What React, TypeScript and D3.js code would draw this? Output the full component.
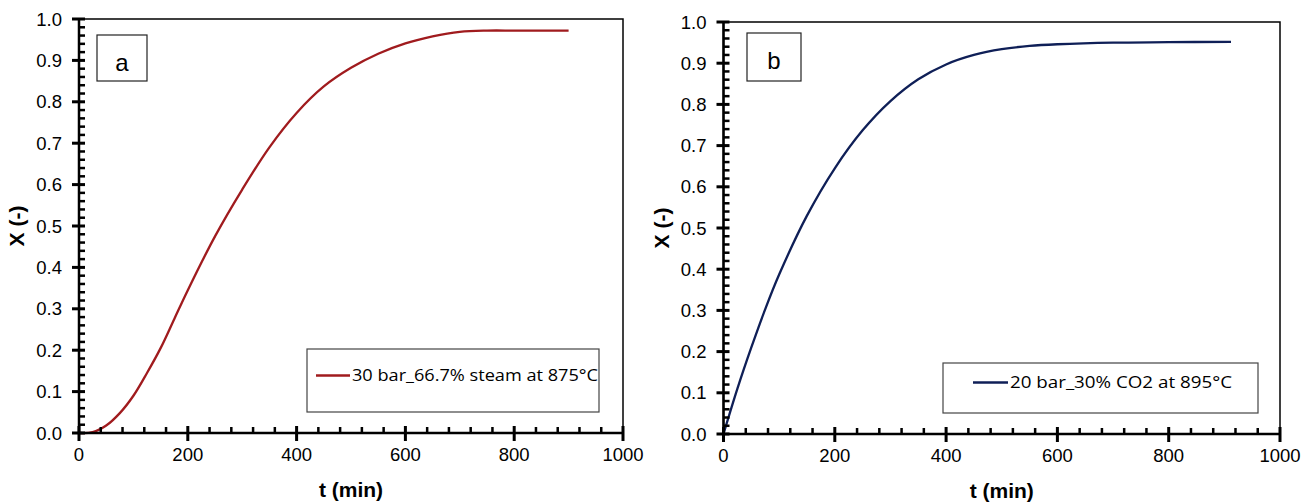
import React from "react";
import * as d3 from "d3";

const tA = [0, 25, 50, 75, 100, 125, 150, 175, 200, 250, 300, 350, 400, 450, 500, 550, 600, 650, 700, 750, 800, 850, 900];
const xA = [0, 0.002, 0.018, 0.048, 0.09, 0.145, 0.205, 0.275, 0.345, 0.475, 0.588, 0.69, 0.773, 0.837, 0.882, 0.916, 0.941, 0.958, 0.969, 0.972, 0.972, 0.972, 0.972];
const tB = [0, 25, 50, 75, 100, 150, 200, 250, 300, 350, 400, 450, 500, 550, 600, 700, 800, 912];
const xB = [0, 0.11, 0.21, 0.303, 0.387, 0.53, 0.645, 0.737, 0.808, 0.861, 0.897, 0.92, 0.934, 0.942, 0.946, 0.95, 0.951, 0.952];
const xTicks = [0, 200, 400, 600, 800, 1000];
const yTicks = [0, 0.1, 0.2, 0.3, 0.4, 0.5, 0.6, 0.7, 0.8, 0.9, 1.0];
const labelA = "30 bar_66.7% steam at 875°C";
const labelB = "20 bar_30% CO2 at 895°C";

type P = {
  left: number; right: number; top: number; bottom: number;
  t: number[]; x: number[]; color: string; tag: string;
  tagBox: [number, number, number, number]; tagBase: number;
  leg: [number, number, number, number]; legLine: [number, number]; legText: number; legTextLen: number; legY: number;
  ytitleX: number;
};

const panels: P[] = [
  {
    left: 79, right: 623, top: 19, bottom: 433, t: tA, x: xA, color: "#A01B1E", tag: "a",
    tagBox: [97, 35, 50, 46], tagBase: 71,
    leg: [307, 349, 292, 63], legLine: [316, 350], legText: 352, legTextLen: 246, legY: 381,
    ytitleX: 24,
  },
  {
    left: 723.5, right: 1280, top: 22, bottom: 434, t: tB, x: xB, color: "#0F1F57", tag: "b",
    tagBox: [747, 33, 54, 48], tagBase: 69,
    leg: [943, 363, 315, 50], legLine: [973, 1008], legText: 1010, legTextLen: 222, legY: 388,
    ytitleX: 669,
  },
];

function Panel({ p }: { p: P }) {
  const xs = d3.scaleLinear().domain([0, 1000]).range([p.left, p.right]);
  const ys = d3.scaleLinear().domain([0, 1]).range([p.bottom, p.top]);
  const data = p.t.map((t, i) => [t, p.x[i]] as [number, number]);
  const line = d3.line<[number, number]>().x(d => xs(d[0])).y(d => ys(d[1])).curve(d3.curveCatmullRom.alpha(0.5));
  const xMinor = d3.range(0, 1001, 40).filter(v => v % 200 !== 0);
  const yMinor = d3.range(0, 51, 1).map(v => v / 50).filter((v, i) => i % 5 !== 0);
  const font = "'Liberation Sans', Arial, sans-serif";
  return (
    <g>
      <rect x={p.left} y={p.top} width={p.right - p.left} height={p.bottom - p.top} fill="none" stroke="#000" strokeWidth={1.5} />
      <path d={line(data) || ""} fill="none" stroke={p.color} strokeWidth={2.3} />
      <rect x={p.left - 1.25} y={p.top} width={2.5} height={p.bottom - p.top + 1} fill="#000" />
      <rect x={p.left - 1.25} y={p.bottom - 1.25} width={p.right - p.left + 1.25} height={2.5} fill="#000" />
      {yTicks.map(v => (
        <rect key={"ytk" + v} x={p.left - 7} y={ys(v) - 1.5} width={13} height={3} fill="#000" />
      ))}
      {yMinor.map(v => (
        <rect key={"ymk" + v} x={p.left} y={ys(v) - 1.25} width={6} height={2.5} fill="#000" />
      ))}
      {xTicks.map(v => (
        <rect key={"xtk" + v} x={xs(v) - 1.5} y={p.bottom - 7} width={3} height={15} fill="#000" />
      ))}
      {xMinor.map(v => (
        <rect key={"xmk" + v} x={xs(v) - 1.25} y={p.bottom - 6} width={2.5} height={6} fill="#000" />
      ))}
      {yTicks.map(v => (
        <text key={"y" + v} x={p.left - 17} y={ys(v) + 6.5} textAnchor="end" fontSize={18.5} fontFamily={font} fill="#000">{v.toFixed(1)}</text>
      ))}
      {xTicks.map(v => (
        <text key={"x" + v} x={xs(v)} y={p.bottom + 28} textAnchor="middle" fontSize={18.5} fontFamily={font} fill="#000">{v}</text>
      ))}
      <text x={(p.left + p.right) / 2} y={p.bottom + 64} textAnchor="middle" fontSize={21} fontWeight="bold" fontFamily={font} fill="#000">t (min)</text>
      <text transform={`translate(${p.ytitleX},${(p.top + p.bottom) / 2}) rotate(-90)`} textAnchor="middle" fontSize={21} fontWeight="bold" fontFamily={font} fill="#000">X (-)</text>
      <rect x={p.tagBox[0]} y={p.tagBox[1]} width={p.tagBox[2]} height={p.tagBox[3]} fill="#fff" stroke="#222" strokeWidth={1.2} />
      <text x={p.tagBox[0] + p.tagBox[2] / 2} y={p.tagBase} textAnchor="middle" fontSize={24} fontFamily={font} fill="#000">{p.tag}</text>
      <rect x={p.leg[0]} y={p.leg[1]} width={p.leg[2]} height={p.leg[3]} fill="#fff" stroke="#444" strokeWidth={1.2} />
      <line x1={p.legLine[0]} x2={p.legLine[1]} y1={p.legY - 5.5} y2={p.legY - 5.5} stroke={p.color} strokeWidth={2.5} />
      <text x={p.legText} y={p.legY} fontSize={16} fontFamily="'Open Sans', 'Noto Sans', sans-serif" textLength={p.legTextLen} lengthAdjust="spacingAndGlyphs" fill="#000">
        {p.tag === "a" ? labelA : labelB}
      </text>
    </g>
  );
}

export default function App() {
  return (
    <svg width={1310} height={504} style={{ position: "absolute", left: 0, top: 0, background: "#fff" }}>
      <rect x={0} y={0} width={1310} height={504} fill="#fff" />
      {panels.map(p => <Panel key={p.tag} p={p} />)}
    </svg>
  );
}
